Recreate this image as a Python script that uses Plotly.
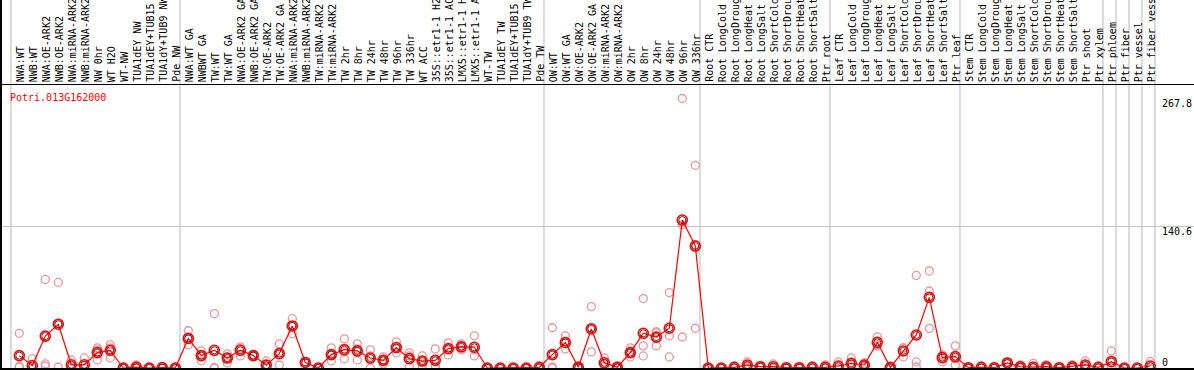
import plotly.graph_objects as go

gene_id = "Potri.013G162000"

categories = [
    "NWA:WT", "NWB:WT", "NWA:OE-ARK2", "NWB:OE-ARK2", "NWA:miRNA-ARK2", "NWB:miRNA-ARK2",
    "NW 0hr", "WT H2O", "WT-NW", "TUA1dEY NW", "TUA1dEY+TUB15 NW", "TUA1dY+TUB9 NW", "Pde NW",
    "NWA:WT GA", "NWBWT GA", "TW:WT", "TW:WT GA", "NWA:OE-ARK2 GA", "NWB:OE-ARK2 GA",
    "TW:OE-ARK2", "TW:OE-ARK2 GA", "NWA:miRNA-ARK2", "NWB:miRNA-ARK2", "TW:miRNA-ARK2",
    "TW:miRNA-ARK2", "TW 2hr", "TW 8hr", "TW 24hr", "TW 48hr", "TW 96hr", "TW 336hr",
    "WT ACC", "35S::etr1-1 H2O", "35S::etr1-1 ACC", "LMX5::etr1-1 H2O", "LMX5::etr1-1 ACC",
    "WT-TW", "TUA1dEY TW", "TUA1dEY+TUB15 TW", "TUA1dY+TUB9 TW", "Pde TW",
    "OW:WT", "OW:WT GA", "OW:OE-ARK2", "OW:OE-ARK2 GA", "OW:miRNA-ARK2", "OW:miRNA-ARK2",
    "OW 2hr", "OW 8hr", "OW 24hr", "OW 48hr", "OW 96hr", "OW 336hr",
    "Root CTR", "Root LongCold", "Root LongDrought", "Root LongHeat", "Root LongSalt",
    "Root ShortCold", "Root ShortDrought", "Root ShortHeat", "Root ShortSalt", "Ptr root",
    "Leaf CTR", "Leaf LongCold", "Leaf LongDrought", "Leaf LongHeat", "Leaf LongSalt",
    "Leaf ShortCold", "Leaf ShortDrought", "Leaf ShortHeat", "Leaf ShortSalt", "Ptr leaf",
    "Stem CTR", "Stem LongCold", "Stem LongDrought", "Stem LongHeat", "Stem LongSalt",
    "Stem ShortCold", "Stem ShortDrought", "Stem ShortHeat", "Stem ShortSalt", "Ptr shoot",
    "Ptr xylem", "Ptr phloem", "Ptr fiber", "Ptr vessel", "Ptr fiber vessel",
]

mean_vals = [
    12.3, 2.5, 31.7, 43.5, 3.2, 3.2, 15.3, 17.6, 0, 0.8, 0, 0.5, 0,
    29.4, 12.3, 17.6, 9.9, 17.6, 12.3, 2.9, 14.3, 41.8, 5.5, 0,
    13.3, 18.3, 17.0, 9.9, 7.6, 20.3, 9.3, 6.9, 7.6, 19.3, 21.0, 20.6,
    0, 0, 0, 0, 0.7,
    13.3, 25.4, 0.8, 38.8, 5.2, 0.8, 15.3, 34.5, 30.7, 39.5, 147.0, 121.2,
    0, 0, 0.7, 3.0, 1.3, 1.3, 0.3, 0.3, 0.7, 0.7,
    2.0, 4.6, 3.0, 25.5, 0.7, 16.9, 32.8, 70.2, 10.3, 11.3,
    0.3, 0.7, 0.3, 5.0, 1.3, 1.0, 1.3, 0.3, 1.3, 3.0,
    0.7, 6.3, 0, 0, 2.0,
]

rep1 = [
    34.5, 9, 88, 85, 8, 10, 20, 23, 0, 3, 0, 1, 0,
    37, 17, 54, 14, 21, 13, 7, 24, 49, 6, 0,
    20, 29, 24, 18, 11, 26, 15, 12, 19, 25, 24, 32,
    0, 0, 0, 0, 2,
    40, 32, 2, 61, 10, 2, 20, 69, 36, 75, 267.8, 201.4,
    0, 0, 2, 6, 2, 4, 1, 1, 2, 3,
    6, 10, 5, 31, 1, 20, 92, 96.4, 13, 22,
    1, 2, 1, 6, 3, 4.6, 3, 1, 3, 7,
    2, 17, 0, 0, 6.5,
]
rep2 = [
    1.5, 0, 4, 44, 1.5, 0, 18, 20, 0, 0, 0, 0, 0,
    29, 13, 0.5, 10, 19, 12, 1.5, 16, 42, 5, 0,
    13, 16, 19, 12, 8, 20, 12, 7, 2, 20, 22, 18,
    0, 0, 0, 0, 0,
    1, 26, 0.5, 40, 4, 0, 15, 22, 35, 32, 142.4, 122.7,
    0, 0, 0, 2, 1, 0, 0, 0, 0, 0,
    0, 3.5, 3, 23, 1, 20, 6, 76.5, 12, 9,
    0, 0, 0, 5, 1, 0, 1, 0, 1, 2,
    0, 1, 0, 0, 0,
]
rep3 = [
    1, 0, 2, 1, 0, 0, 8, 10, 0, 0, 0, 0, 0,
    23, 7, 0, 5, 12, 12, 0, 3, 34, 5, 0,
    7, 9, 8, 0, 4, 15, 1, 2, 1, 13, 18, 12,
    0, 0, 0, 0, 0,
    0, 19, 0, 16, 1, 0, 11, 12, 22, 11, 30.8, 39.5,
    0, 0, 0, 1, 1, 0, 0, 0, 0, 0,
    0, 0.5, 1, 22, 0, 11, 1, 39.4, 6, 3,
    0, 0, 0, 4, 0, 0, 0, 0, 0, 0,
    0, 1, 0, 0, 0,
]

group_starts = [0, 13, 41, 53, 63, 73, 84, 85, 86, 87, 88]
y_ticks = [0, 140.6, 267.8]

W, H = 1194, 370
x_idx = list(range(len(categories)))

fig = go.Figure()

for reps in (rep1, rep2, rep3):
    fig.add_trace(go.Scatter(
        x=x_idx, y=reps, mode="markers",
        marker=dict(symbol="circle-open", size=8, color="#e8969a", line=dict(width=1.3)),
        hoverinfo="skip", showlegend=False,
    ))

fig.add_trace(go.Scatter(
    x=x_idx, y=mean_vals, mode="lines",
    line=dict(color="#ff0000", width=1.2), showlegend=False, hoverinfo="skip",
))
fig.add_trace(go.Scatter(
    x=x_idx, y=mean_vals, mode="markers",
    marker=dict(symbol="circle-open", size=10, color="#ff0000", line=dict(width=1.6)),
    showlegend=False, hoverinfo="skip",
))
fig.add_trace(go.Scatter(
    x=x_idx, y=mean_vals, mode="markers",
    marker=dict(symbol="circle-open", size=7, color="#3a0000", line=dict(width=0.8)),
    showlegend=False, hoverinfo="skip",
))

shapes = []
for k in group_starts:
    shapes.append(dict(type="line", xref="x", yref="paper", x0=k - 0.64, x1=k - 0.64,
                       y0=0, y1=1, line=dict(color="#c4c4c4", width=1.2), layer="below"))
# header separator
shapes.append(dict(type="line", xref="paper", yref="paper", x0=0, x1=1,
                   y0=1 - 84.5 / H, y1=1 - 84.5 / H, line=dict(color="#000000", width=1.2)))
# left and bottom borders
shapes.append(dict(type="line", xref="paper", yref="paper", x0=1 / W, x1=1 / W,
                   y0=0, y1=1, line=dict(color="#000000", width=2)))
shapes.append(dict(type="line", xref="paper", yref="paper", x0=0, x1=1,
                   y0=1 / H, y1=1 / H, line=dict(color="#000000", width=2)))

annotations = []
for i, lab in enumerate(categories):
    annotations.append(dict(
        x=i, xref="x", xshift=1, y=1 - 84 / H, yref="paper", yanchor="bottom", xanchor="center",
        text=lab, textangle=-90, showarrow=False,
        font=dict(family="DejaVu Sans Mono", size=10, color="#000000"),
    ))

annotations.append(dict(
    x=8 / W, xref="paper", xanchor="left", y=1 - 97 / H, yref="paper", yanchor="middle",
    text=gene_id, showarrow=False,
    font=dict(family="DejaVu Sans Mono", size=10, color="#ff0000"),
))
for v, ys in zip(y_ticks, [6, -5, -5]):
    annotations.append(dict(
        x=1160 / W, xref="paper", xanchor="left", y=v, yref="y", yanchor="middle", yshift=ys,
        text=f"{v:g}", showarrow=False,
        font=dict(family="DejaVu Sans Mono", size=10, color="#000000"),
    ))

xmin = -19.3 / 13
xmax = xmin + W / 13
fig.update_layout(
    width=W, height=H,
    margin=dict(l=0, r=0, t=0, b=0),
    paper_bgcolor="#ffffff", plot_bgcolor="#ffffff",
    xaxis=dict(range=[xmin, xmax], showgrid=False, zeroline=False, showticklabels=False,
               ticks="", showline=False, fixedrange=True),
    yaxis=dict(range=[-1.99, 365.7], showgrid=True, gridcolor="#c4c4c4", gridwidth=1.2,
               tickvals=[140.6], zeroline=False, showticklabels=False, ticks="",
               showline=False, fixedrange=True),
    shapes=shapes,
    annotations=annotations,
    showlegend=False,
)

fig.write_html(
    "out.html",
    config={"displayModeBar": False},
    post_script="document.body.style.margin='0px';document.body.style.overflow='hidden';",
)
